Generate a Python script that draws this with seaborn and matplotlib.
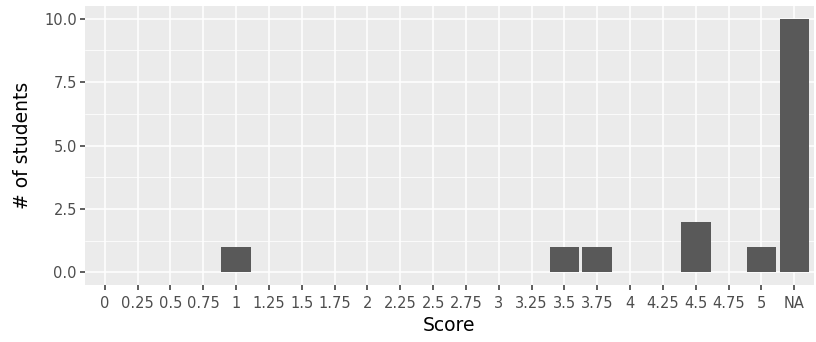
import matplotlib
matplotlib.use("Agg")
import matplotlib.pyplot as plt
import seaborn as sns
import numpy as np
import pandas as pd
from matplotlib.ticker import MultipleLocator

# Data
scores = ["0", "0.25", "0.5", "0.75", "1", "1.25", "1.5", "1.75", "2", "2.25",
          "2.5", "2.75", "3", "3.25", "3.5", "3.75", "4", "4.25", "4.5", "4.75",
          "5", "NA"]
counts = [0, 0, 0, 0, 1, 0, 0, 0, 0, 0,
          0, 0, 0, 0, 1, 1, 0, 0, 2, 0,
          1, 10]

df = pd.DataFrame({"score": scores, "n": counts})

sns.set_style("darkgrid")
plt.rcParams["font.family"] = ["DejaVu Sans"]

fig = plt.figure(figsize=(8.16, 3.42), dpi=100)
ax = fig.add_axes([85 / 816, 1 - 285 / 342, 729 / 816, 279 / 342])
ax.set_facecolor("#EBEBEB")

sns.barplot(data=df, x="score", y="n", order=scores, color="#595959",
            saturation=1, width=0.9, linewidth=0, ax=ax, zorder=3)

ax.set_xlim(-0.6, len(scores) - 1 + 0.6)
ax.set_ylim(-0.5, 10.5)
ax.yaxis.set_minor_locator(MultipleLocator(1.25))
ax.set_yticks([0, 2.5, 5, 7.5, 10])
ax.set_yticklabels(["0.0", "2.5", "5.0", "7.5", "10.0"])

ax.grid(which="major", color="white", linewidth=1.1, zorder=0)
ax.grid(which="minor", axis="y", color="white", linewidth=0.55, zorder=0)
ax.grid(which="minor", axis="x", visible=False)
ax.set_axisbelow(True)
for s in ax.spines.values():
    s.set_visible(False)

ax.tick_params(axis="both", which="major", length=3.8, width=1.1, color="#333333",
               labelcolor="#4D4D4D", labelsize=10.5, pad=2,
               bottom=True, left=True)
ax.tick_params(axis="x", which="major", pad=4)
ax.tick_params(axis="y", which="minor", length=0, left=False)
ax.set_xlabel("Score", fontsize=13.5, color="black", labelpad=4)
ax.set_ylabel("# of students", fontsize=13.5, color="black", labelpad=9)

fig.savefig("out.png", dpi=100)
